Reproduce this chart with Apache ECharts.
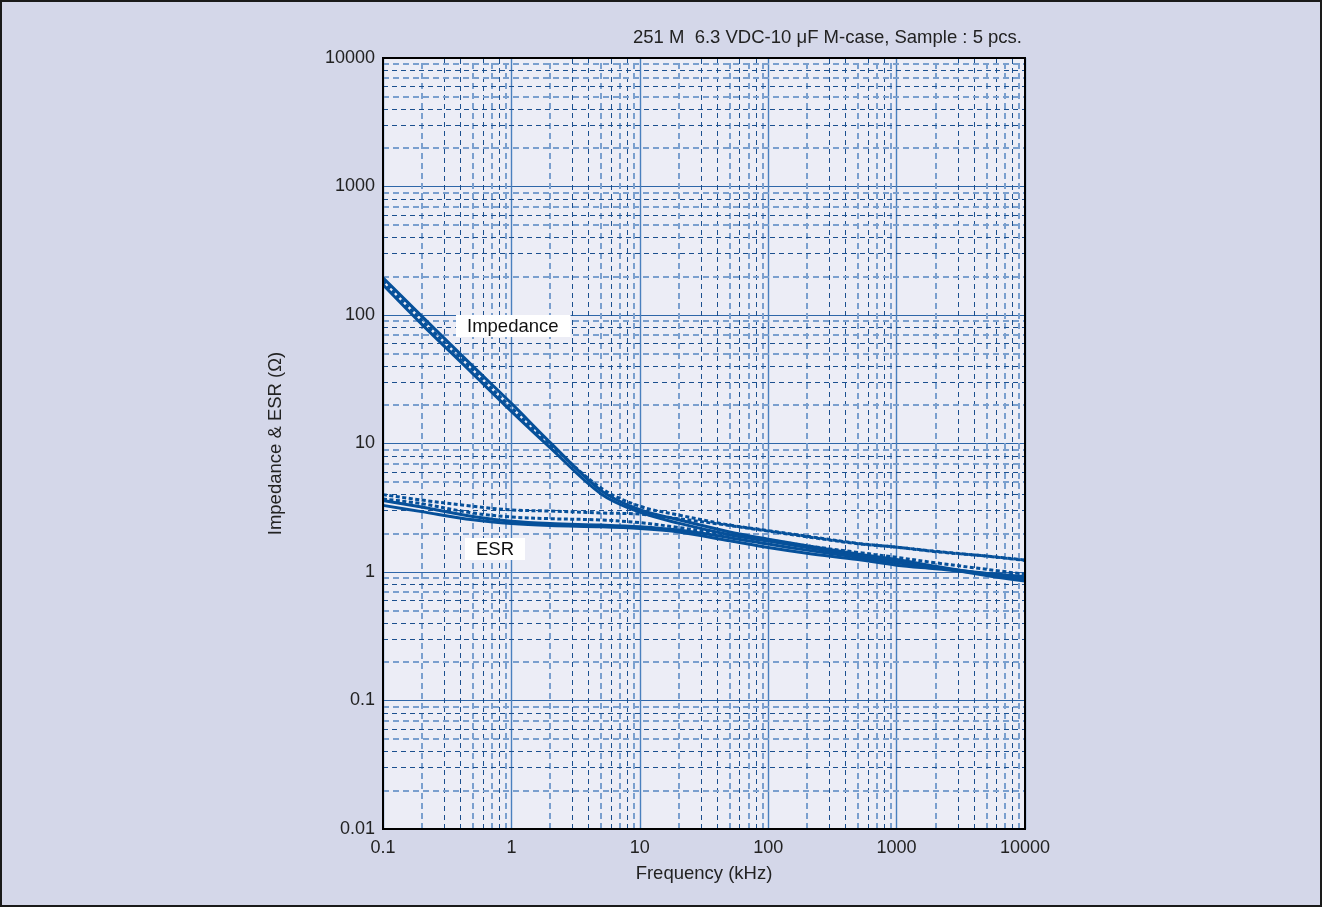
<!DOCTYPE html>
<html>
<head>
<meta charset="utf-8">
<script src="https://cdn.jsdelivr.net/npm/echarts@6/dist/echarts.min.js"></script>
<style>
html,body{margin:0;padding:0;background:#D4D7E9;}
#chart{width:1322px;height:907px;}
</style>
</head>
<body>
<div id="chart"></div>
<script>
// ---- data ----
const titleText = '251 M  6.3 VDC-10 \u03bcF M-case, Sample : 5 pcs.';
const freqKHz = [0.1, 0.2, 0.5, 1, 2, 5, 10, 20, 50, 100, 200, 500, 1000, 2000, 5000, 10000];

const impedanceSolidA = [195, 98, 40, 20.5, 10.2, 4.3, 3.05, 2.55, 2.05, 1.8, 1.6, 1.38, 1.25, 1.11, 0.96, 0.88];
const impedanceSolidB = [172, 85, 35, 17.8, 9.3, 4.05, 2.92, 2.4, 1.95, 1.74, 1.55, 1.34, 1.22, 1.09, 0.94, 0.85];
const impedanceDotted = [183, 91, 37.5, 19, 9.9, 4.5, 3.25, 2.78, 2.32, 2.1, 1.9, 1.67, 1.56, 1.45, 1.33, 1.24];

const esrSolidA = [3.6, 3.2, 2.7, 2.48, 2.38, 2.32, 2.25, 2.12, 1.85, 1.65, 1.48, 1.3, 1.18, 1.08, 0.98, 0.92];
const esrSolidB = [3.3, 2.95, 2.55, 2.38, 2.3, 2.25, 2.18, 2.05, 1.75, 1.55, 1.4, 1.25, 1.13, 1.06, 0.97, 0.88];
const esrDottedA = [4.0, 3.63, 3.25, 3.04, 2.98, 2.88, 2.82, 2.6, 2.3, 2.08, 1.88, 1.66, 1.56, 1.44, 1.33, 1.23];
const esrDottedB = [3.7, 3.4, 2.88, 2.68, 2.6, 2.54, 2.42, 2.22, 1.95, 1.78, 1.6, 1.42, 1.3, 1.18, 1.05, 0.96];

const xTickLabels = ['0.1', '1', '10', '100', '1000', '10000'];
const yTickLabels = ['0.01', '0.1', '1', '10', '100', '1000', '10000'];
const xDecades = [0.1, 1, 10, 100, 1000];
const yDecades = [0.01, 0.1, 1, 10, 100, 1000];
const minorMultipliers = [2, 3, 4, 5, 6, 7, 8, 9];
const lightMultipliers = [2, 5, 7, 9];

// ---- styles ----
const FONT = '"Liberation Sans", Arial, Helvetica, sans-serif';
const FS = 18;
const LINE = '#06509A';
const darkDash = {color: '#1B4F8E', width: 1, type: [5, 4]};
const lightDash = {color: '#7A9FCE', width: 2, type: [6, 4]};

function pairs(ys) { return freqKHz.map((f, i) => [f, ys[i]]); }
function fmt(list) {
  return v => {
    const s = String(+Number(v).toPrecision(6));
    return list.includes(s) ? s : '';
  };
}

const minorLines = [];
xDecades.forEach(d => minorMultipliers.forEach(m => {
  minorLines.push({xAxis: +(d * m).toPrecision(6),
    lineStyle: lightMultipliers.includes(m) ? lightDash : darkDash});
}));
yDecades.forEach(d => minorMultipliers.forEach(m => {
  minorLines.push({yAxis: +(d * m).toPrecision(6),
    lineStyle: lightMultipliers.includes(m) ? lightDash : darkDash});
}));

function curve(name, ys, dotted) {
  return {
    name: name, type: 'line', data: pairs(ys), smooth: 0.35,
    showSymbol: false, symbol: 'none', silent: true, z: 5,
    lineStyle: dotted ? {color: LINE, width: 3, type: [4, 2.5]} : {color: LINE, width: 3}
  };
}

const G = {left: 383, top: 58, right: 297, bottom: 78};

const chart = echarts.init(document.getElementById('chart'), null, {renderer: 'canvas'});
chart.setOption({
  animation: false,
  backgroundColor: '#D4D7E9',
  title: {
    text: titleText, right: 295, top: 23,
    textStyle: {fontFamily: FONT, fontSize: 18.5, fontWeight: 'normal', color: '#222'}
  },
  grid: {
    left: G.left, top: G.top, right: G.right, bottom: G.bottom,
    show: true, backgroundColor: '#ECEDF6', borderColor: '#000', borderWidth: 2
  },
  xAxis: {
    type: 'log', logBase: 10, min: 0.1, max: 10000,
    name: 'Frequency (kHz)', nameLocation: 'middle', nameGap: 35,
    nameTextStyle: {fontFamily: FONT, fontSize: 18.5, color: '#222'},
    axisLine: {show: false}, axisTick: {show: false},
    axisLabel: {fontFamily: FONT, fontSize: FS, color: '#222', margin: 10, formatter: fmt(xTickLabels)},
    splitLine: {show: true, lineStyle: {color: '#4A80BE', width: 1.4}}
  },
  yAxis: {
    type: 'log', logBase: 10, min: 0.01, max: 10000,
    name: 'Impedance & ESR (\u03a9)', nameLocation: 'middle', nameGap: 98,
    nameTextStyle: {fontFamily: FONT, fontSize: 18.5, color: '#222'},
    axisLine: {show: false}, axisTick: {show: false},
    axisLabel: {fontFamily: FONT, fontSize: FS, color: '#222', margin: 8, formatter: fmt(yTickLabels)},
    splitLine: {show: true, lineStyle: {color: '#2E66A8', width: 1.2}}
  },
  series: [
    {
      type: 'line', data: [], silent: true, z: 1,
      markLine: {silent: true, symbol: 'none', label: {show: false}, animation: false, data: minorLines}
    },
    curve('Impedance A', impedanceSolidA, false),
    curve('Impedance B', impedanceSolidB, false),
    curve('Impedance dotted', impedanceDotted, true),
    curve('ESR A', esrSolidA, false),
    curve('ESR B', esrSolidB, false),
    curve('ESR dotted A', esrDottedA, true),
    curve('ESR dotted B', esrDottedB, true)
  ],
  graphic: [
    {type: 'rect', shape: {x: 1, y: 1, width: 1320, height: 905}, style: {fill: 'none', stroke: '#1a1a1a', lineWidth: 2}, z: 100},
    {type: 'rect', silent: true, z: 60,
      shape: {x: G.left, y: G.top, width: 1322 - G.left - G.right, height: 907 - G.top - G.bottom},
      style: {fill: 'none', stroke: '#000', lineWidth: 2}},
    {type: 'text', left: 456, top: 315, z: 50,
      style: {text: 'Impedance', font: '18.5px ' + FONT, fill: '#111', backgroundColor: '#fff', padding: [2, 12, 1, 11]}},
    {type: 'text', left: 465, top: 538, z: 50,
      style: {text: 'ESR', font: '18.5px ' + FONT, fill: '#111', backgroundColor: '#fff', padding: [2, 11, 1, 11]}}
  ]
});
</script>
</body>
</html>
